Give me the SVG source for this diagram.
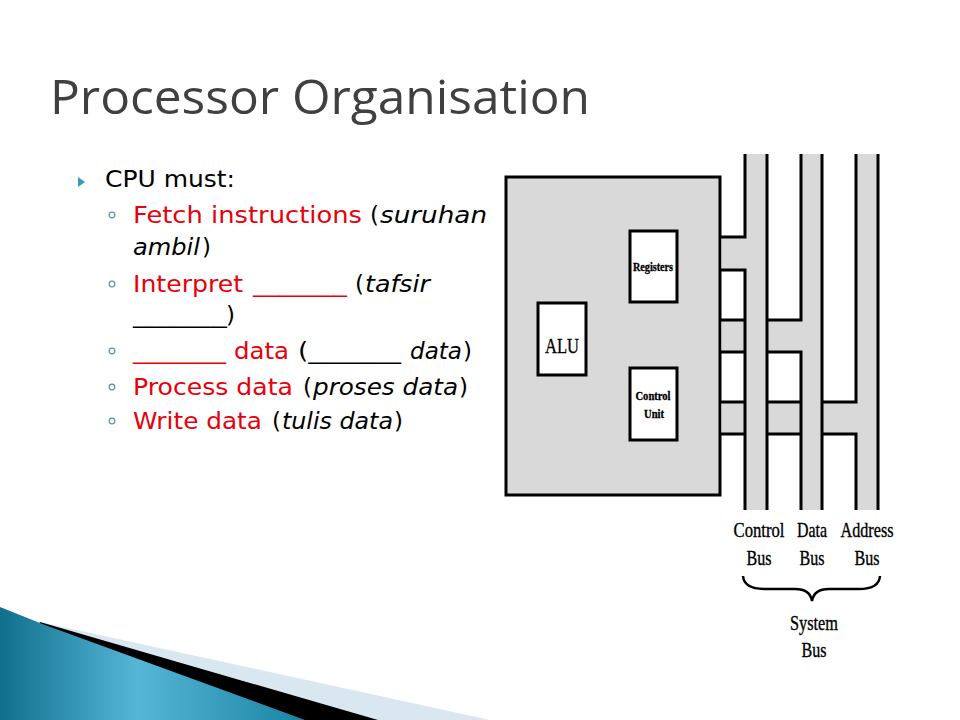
<svg xmlns="http://www.w3.org/2000/svg" width="960" height="720" viewBox="0 0 960 720">
<defs>
<linearGradient id="teal" x1="0" y1="0" x2="1" y2="0" gradientUnits="objectBoundingBox">
<stop offset="0" stop-color="#0f6f8c"/>
<stop offset="0.45" stop-color="#56b6d6"/>
<stop offset="1" stop-color="#1a84a3"/>
</linearGradient>
</defs>
<style>
.b{font-family:"DejaVu Sans","Open Sans",sans-serif;font-size:23px}
.red{fill:#e8000b}
.blk{fill:#000}
.it{font-style:italic}
.box{fill:#fff;stroke:#000;stroke-width:3}
.gray{fill:#d9d9d9}
.ln{fill:none;stroke:#000;stroke-width:3;stroke-linejoin:miter}
.lbl{font-family:"Liberation Serif","Times New Roman",serif;fill:#000;stroke:#000;stroke-width:0.35}
.ring{fill:none;stroke:#4a9ab0;stroke-width:1.2}
</style>
<rect width="960" height="720" fill="#fff"/>

<g id="decoration">
<polygon points="40,622 490,720 0,720" fill="#d9e8f0"/>
<polygon points="40,622 378,720 0,720" fill="#000"/>
<polygon points="0,607 45,625 305,720 0,720" fill="url(#teal)"/>
</g>

<g id="title">
<text x="50" y="114" font-family="Open Sans, DejaVu Sans, sans-serif" font-size="48" fill="#404040" textLength="540" lengthAdjust="spacingAndGlyphs">Processor Organisation</text>
</g>

<g id="bullets" class="b">
<polygon points="78,177 85,182 78,187" fill="#3a9ab5"/>
<text x="105" y="187" class="blk" textLength="130" lengthAdjust="spacingAndGlyphs">CPU must:</text>

<circle class="ring" cx="112" cy="215" r="2.8"/>
<text x="133" y="223" class="red" textLength="229" lengthAdjust="spacingAndGlyphs">Fetch instructions</text>
<text x="370" y="223" class="blk" textLength="9" lengthAdjust="spacingAndGlyphs">(</text>
<text x="380" y="223" class="blk it" textLength="107" lengthAdjust="spacingAndGlyphs">suruhan</text>
<text x="133" y="255" class="blk it" textLength="67" lengthAdjust="spacingAndGlyphs">ambil</text>
<text x="202" y="255" class="blk" textLength="9" lengthAdjust="spacingAndGlyphs">)</text>

<circle class="ring" cx="112" cy="284" r="2.8"/>
<text x="133" y="292" class="red" textLength="110" lengthAdjust="spacingAndGlyphs">Interpret</text>
<text x="253" y="292" class="red" textLength="94" lengthAdjust="spacingAndGlyphs">_______</text>
<text x="355" y="292" class="blk" textLength="9" lengthAdjust="spacingAndGlyphs">(</text>
<text x="365" y="292" class="blk it" textLength="65" lengthAdjust="spacingAndGlyphs">tafsir</text>
<text x="133" y="323" class="blk" textLength="94" lengthAdjust="spacingAndGlyphs">_______</text>
<text x="226" y="323" class="blk" textLength="9" lengthAdjust="spacingAndGlyphs">)</text>

<circle class="ring" cx="112" cy="351" r="2.8"/>
<text x="133" y="359" class="red" textLength="93" lengthAdjust="spacingAndGlyphs">_______</text>
<text x="234" y="359" class="red" textLength="55" lengthAdjust="spacingAndGlyphs">data</text>
<text x="298" y="359" class="blk" textLength="103" lengthAdjust="spacingAndGlyphs">(_______</text>
<text x="410" y="359" class="blk it" textLength="52" lengthAdjust="spacingAndGlyphs">data</text>
<text x="463" y="359" class="blk" textLength="9" lengthAdjust="spacingAndGlyphs">)</text>

<circle class="ring" cx="112" cy="387" r="2.8"/>
<text x="133" y="395" class="red" textLength="160" lengthAdjust="spacingAndGlyphs">Process data</text>
<text x="303" y="395" class="blk" textLength="9" lengthAdjust="spacingAndGlyphs">(</text>
<text x="313" y="395" class="blk it" textLength="145" lengthAdjust="spacingAndGlyphs">proses data</text>
<text x="459" y="395" class="blk" textLength="9" lengthAdjust="spacingAndGlyphs">)</text>

<circle class="ring" cx="112" cy="421" r="2.8"/>
<text x="133" y="429" class="red" textLength="129" lengthAdjust="spacingAndGlyphs">Write data</text>
<text x="272" y="429" class="blk" textLength="9" lengthAdjust="spacingAndGlyphs">(</text>
<text x="282" y="429" class="blk it" textLength="111" lengthAdjust="spacingAndGlyphs">tulis data</text>
<text x="394" y="429" class="blk" textLength="9" lengthAdjust="spacingAndGlyphs">)</text>
</g>

<g id="cpu">
<rect x="506" y="177" width="214" height="318" fill="#d9d9d9" stroke="#000" stroke-width="3"/>
</g>

<g id="registers">
<rect class="box" x="630" y="231" width="47" height="71"/>
<text class="lbl" x="653" y="271" font-size="13" font-weight="bold" text-anchor="middle" textLength="40" lengthAdjust="spacingAndGlyphs">Registers</text>
</g>

<g id="alu">
<rect class="box" x="538" y="303" width="48" height="72"/>
<text class="lbl" x="562" y="353" font-size="22" text-anchor="middle" textLength="34" lengthAdjust="spacingAndGlyphs">ALU</text>
</g>

<g id="control-unit">
<rect class="box" x="630" y="368" width="47" height="72"/>
<text class="lbl" x="653" y="400" font-size="13" font-weight="bold" text-anchor="middle" textLength="35" lengthAdjust="spacingAndGlyphs">Control</text>
<text class="lbl" x="654" y="418" font-size="13" font-weight="bold" text-anchor="middle" textLength="20" lengthAdjust="spacingAndGlyphs">Unit</text>
</g>

<g id="connectors">
<rect class="gray" x="721.5" y="237" width="24" height="33"/>
<rect class="gray" x="721.5" y="320" width="80" height="32"/>
<rect class="gray" x="721.5" y="402" width="135" height="32"/>
<rect class="gray" x="745" y="154" width="22" height="356"/>
<rect class="gray" x="801" y="154" width="21" height="356"/>
<rect class="gray" x="856" y="154" width="22" height="356"/>
<path class="ln" d="M745,154 V237 H720 M720,270 H745 V510 M767,154 V510"/>
<path class="ln" d="M801,154 V320 H767 M745,320 H720 M720,352 H745 M767,352 H801 V510 M822,154 V510"/>
<path class="ln" d="M856,154 V402 H822 M801,402 H767 M745,402 H720 M720,434 H745 M767,434 H801 M822,434 H856 V510 M878,154 V510"/>
</g>

<g id="bus-labels">
<text class="lbl" x="759" y="537" font-size="21" text-anchor="middle" textLength="51" lengthAdjust="spacingAndGlyphs">Control</text>
<text class="lbl" x="759" y="565" font-size="21" text-anchor="middle" textLength="25" lengthAdjust="spacingAndGlyphs">Bus</text>
<text class="lbl" x="812" y="537" font-size="21" text-anchor="middle" textLength="30" lengthAdjust="spacingAndGlyphs">Data</text>
<text class="lbl" x="812" y="565" font-size="21" text-anchor="middle" textLength="25" lengthAdjust="spacingAndGlyphs">Bus</text>
<text class="lbl" x="867" y="537" font-size="21" text-anchor="middle" textLength="53" lengthAdjust="spacingAndGlyphs">Address</text>
<text class="lbl" x="867" y="565" font-size="21" text-anchor="middle" textLength="25" lengthAdjust="spacingAndGlyphs">Bus</text>
</g>

<g id="system-bus">
<path d="M743,576 Q744,589 765,589 L795,589 Q810,589 812,601 Q814,589 829,589 L859,589 Q879,589 880,576" fill="none" stroke="#000" stroke-width="2.5"/>
<text class="lbl" x="814" y="630" font-size="21" text-anchor="middle" textLength="48" lengthAdjust="spacingAndGlyphs">System</text>
<text class="lbl" x="814" y="657" font-size="21" text-anchor="middle" textLength="25" lengthAdjust="spacingAndGlyphs">Bus</text>
</g>
</svg>
